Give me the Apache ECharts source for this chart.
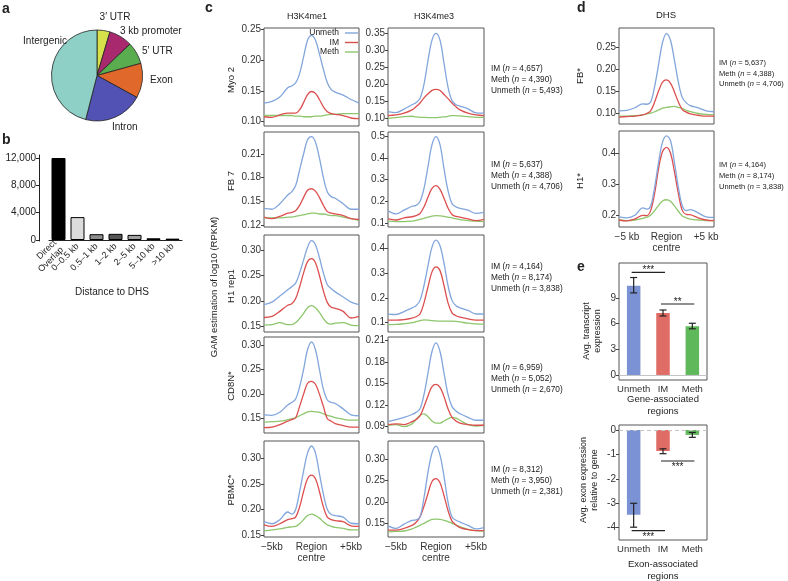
<!DOCTYPE html>
<html><head><meta charset="utf-8">
<script src="https://cdn.jsdelivr.net/npm/echarts@6/dist/echarts.min.js"></script>
<style>html,body{margin:0;padding:0;background:#fff}#c{width:788px;height:581px}</style>
</head><body><div id="c"></div>
<script>
const FONT = '"Liberation Sans", Arial, Helvetica, sans-serif';
const COL = {Unmeth:'#82a6dc', IM:'#dc4f4f', Meth:'#8dc66c'};

// ---- panel a
const pieCats = ['3′ UTR','3 kb promoter','5′ UTR','Exon','Intron','Intergenic'];
const pieVals = [4.6, 8.3, 7.8, 12.3, 21.0, 46.0];
const pieColors = ['#d6e04a','#a8296e','#5aad4e','#e0682a','#5252b4','#8ed0c6'];

// ---- panel b
const distCats = ['Direct\nOverlap','0–0.5 kb','0.5–1 kb','1–2 kb','2–5 kb','5–10 kb','>10 kb'];
const distVals = [12000, 3350, 850, 900, 750, 250, 200];
const distColors = ['#000000','#dcdcdc','#8c8c8c','#555555','#a0a0a0','#2e2e2e','#7a7a7a'];
const distTicks = [0, 4000, 8000, 12000];

// ---- panels c, d : profile x positions (kb from region centre)
const profX = [-6,-5,-4,-3,-2.5,-2,-1.5,-1,-0.5,0,0.5,1,1.5,2,2.5,3,4,5,6];

const myo2Me1Unmeth = [0.130,0.133,0.140,0.155,0.158,0.163,0.178,0.205,0.232,0.240,0.232,0.210,0.185,0.163,0.152,0.148,0.143,0.136,0.130];
const myo2Me1IM     = [0.108,0.107,0.111,0.114,0.114,0.114,0.119,0.131,0.144,0.149,0.146,0.136,0.124,0.116,0.113,0.112,0.110,0.106,0.105];
const myo2Me1Meth   = [0.110,0.110,0.110,0.110,0.110,0.109,0.109,0.108,0.108,0.108,0.109,0.109,0.110,0.111,0.112,0.112,0.113,0.113,0.113];
const myo2Me3Unmeth = [0.120,0.117,0.127,0.140,0.146,0.158,0.200,0.270,0.330,0.350,0.330,0.262,0.192,0.152,0.140,0.136,0.128,0.116,0.115];
const myo2Me3IM     = [0.108,0.110,0.115,0.125,0.134,0.145,0.160,0.172,0.182,0.185,0.182,0.170,0.158,0.145,0.134,0.125,0.115,0.110,0.108];
const myo2Me3Meth   = [0.100,0.102,0.105,0.106,0.104,0.103,0.103,0.102,0.102,0.102,0.103,0.104,0.106,0.108,0.108,0.107,0.105,0.103,0.103];

const fb7Me1Unmeth = [0.141,0.140,0.147,0.158,0.162,0.170,0.190,0.210,0.228,0.232,0.225,0.205,0.180,0.162,0.156,0.154,0.147,0.140,0.140];
const fb7Me1IM     = [0.130,0.128,0.131,0.135,0.136,0.138,0.145,0.155,0.164,0.166,0.163,0.155,0.145,0.137,0.135,0.134,0.132,0.128,0.127];
const fb7Me1Meth   = [0.129,0.129,0.129,0.130,0.130,0.131,0.132,0.133,0.134,0.135,0.135,0.134,0.134,0.133,0.132,0.132,0.130,0.128,0.126];
const fb7Me3Unmeth = [0.158,0.143,0.160,0.178,0.182,0.200,0.260,0.360,0.460,0.497,0.460,0.350,0.250,0.190,0.175,0.168,0.160,0.145,0.150];
const fb7Me3IM     = [0.120,0.115,0.125,0.130,0.135,0.145,0.175,0.220,0.260,0.272,0.255,0.215,0.170,0.140,0.132,0.128,0.120,0.112,0.118];
const fb7Me3Meth   = [0.110,0.108,0.108,0.110,0.113,0.118,0.123,0.128,0.133,0.135,0.134,0.132,0.128,0.125,0.120,0.117,0.112,0.110,0.108];

const h1Me1Unmeth = [0.193,0.198,0.210,0.222,0.228,0.235,0.255,0.280,0.305,0.318,0.310,0.285,0.255,0.232,0.224,0.218,0.208,0.198,0.193];
const h1Me1IM     = [0.168,0.170,0.180,0.192,0.195,0.205,0.228,0.255,0.277,0.283,0.275,0.250,0.220,0.197,0.188,0.186,0.180,0.167,0.170];
const h1Me1Meth   = [0.153,0.154,0.158,0.154,0.154,0.158,0.166,0.176,0.187,0.191,0.187,0.178,0.166,0.157,0.155,0.157,0.158,0.153,0.152];
const h1Me3Unmeth = [0.135,0.133,0.145,0.160,0.168,0.190,0.250,0.330,0.405,0.433,0.410,0.340,0.250,0.190,0.168,0.160,0.150,0.135,0.135];
const h1Me3IM     = [0.110,0.110,0.112,0.118,0.124,0.135,0.180,0.245,0.305,0.325,0.310,0.250,0.180,0.140,0.128,0.122,0.115,0.110,0.110];
const h1Me3Meth   = [0.092,0.093,0.096,0.100,0.104,0.108,0.111,0.110,0.108,0.107,0.106,0.106,0.106,0.106,0.105,0.103,0.098,0.095,0.094];

const cd8Me1Unmeth = [0.158,0.157,0.163,0.178,0.183,0.190,0.215,0.250,0.290,0.306,0.290,0.250,0.210,0.188,0.183,0.181,0.170,0.158,0.156];
const cd8Me1IM     = [0.132,0.133,0.138,0.145,0.148,0.152,0.175,0.200,0.222,0.226,0.220,0.200,0.175,0.150,0.145,0.140,0.136,0.133,0.133];
const cd8Me1Meth   = [0.143,0.144,0.145,0.148,0.150,0.152,0.156,0.160,0.164,0.165,0.164,0.163,0.160,0.157,0.155,0.152,0.149,0.147,0.147];
const cd8Me3Unmeth = [0.097,0.100,0.103,0.107,0.110,0.115,0.135,0.165,0.195,0.207,0.195,0.165,0.135,0.118,0.112,0.108,0.103,0.099,0.099];
const cd8Me3IM     = [0.093,0.094,0.093,0.097,0.100,0.105,0.118,0.133,0.146,0.149,0.145,0.132,0.115,0.103,0.098,0.095,0.093,0.092,0.092];
const cd8Me3Meth   = [0.092,0.093,0.090,0.094,0.100,0.106,0.108,0.104,0.098,0.095,0.095,0.098,0.101,0.103,0.102,0.099,0.093,0.091,0.092];

const pbmcMe1Unmeth = [0.176,0.172,0.180,0.195,0.191,0.200,0.235,0.275,0.310,0.324,0.310,0.270,0.230,0.200,0.190,0.188,0.185,0.173,0.172];
const pbmcMe1IM     = [0.170,0.167,0.172,0.180,0.182,0.185,0.205,0.235,0.260,0.267,0.260,0.235,0.205,0.185,0.180,0.178,0.176,0.168,0.167];
const pbmcMe1Meth   = [0.158,0.160,0.162,0.165,0.166,0.167,0.172,0.180,0.188,0.191,0.188,0.183,0.176,0.170,0.167,0.165,0.163,0.160,0.160];
const pbmcMe3Unmeth = [0.144,0.138,0.148,0.157,0.158,0.165,0.210,0.270,0.315,0.331,0.310,0.260,0.200,0.165,0.157,0.153,0.145,0.137,0.140];
const pbmcMe3IM     = [0.134,0.134,0.138,0.145,0.152,0.165,0.190,0.220,0.248,0.255,0.245,0.215,0.180,0.155,0.146,0.140,0.135,0.133,0.133];
const pbmcMe3Meth   = [0.130,0.131,0.132,0.137,0.141,0.145,0.150,0.155,0.159,0.160,0.159,0.157,0.154,0.150,0.146,0.142,0.136,0.133,0.132];

const dhsFbUnmeth = [0.105,0.106,0.112,0.121,0.120,0.125,0.160,0.210,0.260,0.280,0.265,0.220,0.170,0.135,0.123,0.117,0.112,0.105,0.103];
const dhsFbIM     = [0.091,0.092,0.093,0.096,0.099,0.105,0.125,0.150,0.170,0.175,0.168,0.148,0.125,0.108,0.102,0.098,0.095,0.093,0.093];
const dhsFbMeth   = [0.093,0.093,0.094,0.096,0.098,0.100,0.103,0.107,0.111,0.113,0.114,0.115,0.113,0.110,0.106,0.103,0.099,0.097,0.096];
const dhsH1Unmeth = [0.195,0.192,0.200,0.224,0.220,0.230,0.290,0.370,0.435,0.455,0.440,0.370,0.290,0.230,0.215,0.218,0.208,0.195,0.193];
const dhsH1IM     = [0.185,0.182,0.188,0.200,0.199,0.215,0.270,0.350,0.405,0.418,0.400,0.340,0.270,0.215,0.203,0.202,0.192,0.185,0.183];
const dhsH1Meth   = [0.185,0.183,0.185,0.190,0.194,0.200,0.215,0.232,0.246,0.250,0.245,0.230,0.213,0.198,0.192,0.188,0.185,0.183,0.183];

// tick labels
const ticksMyo2Me1 = [0.10,0.15,0.20,0.25];
const ticksMyo2Me3 = [0.10,0.15,0.20,0.25,0.30,0.35];
const ticksFb7Me1  = [0.12,0.15,0.18,0.21];
const ticksFb7Me3  = [0.1,0.2,0.3,0.4,0.5];
const ticksH1Me1   = [0.15,0.20,0.25,0.30];
const ticksH1Me3   = [0.1,0.2,0.3,0.4];
const ticksCd8Me1  = [0.15,0.20,0.25,0.30];
const ticksCd8Me3  = [0.09,0.12,0.15,0.18,0.21];
const ticksPbmcMe1 = [0.15,0.20,0.25,0.30];
const ticksPbmcMe3 = [0.15,0.20,0.25,0.30];
const ticksDhsFb   = [0.10,0.15,0.20,0.25];
const ticksDhsH1   = [0.2,0.3,0.4];
const profTicks = [-5, 0, 5];
const profTickLabelsC = ['−5kb','Region\ncentre','+5kb'];
const profTickLabelsD = ['−5 kb','Region\ncentre','+5 kb'];

const cColumns = ['H3K4me1','H3K4me3'];
const cRows = ['Myo 2','FB 7','H1 rep1','CD8N*','PBMC*'];
const dRows = ['FB*','H1*'];
// region counts: IM, Meth, Unmeth
const countsMyo2 = [4657, 4390, 5493];
const countsFb7  = [5637, 4388, 4706];
const countsH1   = [4164, 8174, 3838];
const countsCd8  = [6959, 5052, 2670];
const countsPbmc = [8312, 3950, 2381];
const countsDhsFb = [5637, 4388, 4706];
const countsDhsH1 = [4164, 8174, 3838];

// ---- panel e
const eCats = ['Unmeth','IM','Meth'];
const eColors = ['#7b93d4','#e06c66','#5fb85a'];
const geneMean = [10.45, 7.25, 5.70];
const geneLow  = [9.60, 6.90, 5.40];
const geneHigh = [11.40, 7.60, 6.05];
const exonMean = [-3.47, -0.86, -0.20];
const exonLow  = [-3.98, -0.97, -0.30];
const exonHigh = [-3.00, -0.77, -0.10];
const geneTicks = [0, 3, 6, 9];
const exonTicks = [-4, -3, -2, -1, 0];
const geneSig = [[0, 1, 12.0], [1, 2, 8.3]];
const geneSigLabels = ['***', '**'];
const exonSig = [[1, 2, -1.27], [0, 1, -4.12]];
const exonSigLabels = ['***', '***'];

// ---------------- build
const grids = [], xAxes = [], yAxes = [], series = [];
const frame = {show:true, borderColor:'#555', borderWidth:1, backgroundColor:'transparent'};
const fmtK = v => String(v).replace(/\B(?=(\d{3})+(?!\d))/g, ',');

function addProfile(left, top, width, height, U, I, M, range, ticks, dec, showX, xLabels) {
  const g = grids.length;
  grids.push(Object.assign({left, top, width, height}, frame));
  xAxes.push({gridIndex:g, type:'value', min:-6, max:6,
    axisLine:{show:false, onZero:false}, axisTick:{show:false}, splitLine:{show:false},
    axisLabel:{show:showX, customValues:profTicks, margin:4, fontSize:10, lineHeight:11.5, color:'#333', fontFamily:FONT,
      formatter: v => xLabels[profTicks.indexOf(v)]}});
  yAxes.push({gridIndex:g, type:'value', min:range[0], max:range[1],
    axisLine:{show:false, onZero:false}, splitLine:{show:false},
    axisTick:{show:true, customValues:ticks, length:3, lineStyle:{color:'#444'}},
    axisLabel:{customValues:ticks, margin:3, fontSize:10, color:'#333', fontFamily:FONT, formatter: v => v.toFixed(dec)}});
  [['Meth', M], ['IM', I], ['Unmeth', U]].forEach(([name, arr]) => {
    series.push({type:'line', name, xAxisIndex:g, yAxisIndex:g, smooth:0.35, symbol:'none',
      lineStyle:{width:1.3, color:COL[name]}, itemStyle:{color:COL[name]},
      data: profX.map((x, i) => [x, arr[i]])});
  });
}

// b
grids.push({left:49, top:155, width:133, height:86});
xAxes.push({gridIndex:0, type:'category', data:distCats,
  axisLine:{show:true, onZero:true, lineStyle:{color:'#222'}}, axisTick:{show:false},
  axisLabel:{rotate:45, interval:0, margin:4, fontSize:9, lineHeight:10, color:'#222', fontFamily:FONT}});
yAxes.push({gridIndex:0, type:'value', min:-146, max:12440, offset:10, splitLine:{show:false},
  axisLine:{show:true, onZero:false, lineStyle:{color:'#222'}},
  axisTick:{show:true, customValues:distTicks, length:3, lineStyle:{color:'#222'}},
  axisLabel:{customValues:distTicks, margin:3, fontSize:10, color:'#222', fontFamily:FONT, formatter:fmtK}});
series.push({type:'bar', name:'distance', xAxisIndex:0, yAxisIndex:0, barWidth:14,
  data: distVals.map((v, i) => ({value:v, itemStyle:{color:distColors[i], borderColor:'#000', borderWidth:1}}))});

// c
const cLeft = [264, 388], cWidth = [95, 96];
const rowTop = [28, 132, 235, 337, 441], rowH = [98, 95, 97, 96, 96];
const cData = [
  [[myo2Me1Unmeth, myo2Me1IM, myo2Me1Meth, [0.093,0.252], ticksMyo2Me1, 2], [myo2Me3Unmeth, myo2Me3IM, myo2Me3Meth, [0.0774,0.3656], ticksMyo2Me3, 2]],
  [[fb7Me1Unmeth, fb7Me1IM, fb7Me1Meth, [0.1175,0.2379], ticksFb7Me1, 2], [fb7Me3Unmeth, fb7Me3IM, fb7Me3Meth, [0.083,0.518], ticksFb7Me3, 1]],
  [[h1Me1Unmeth, h1Me1IM, h1Me1Meth, [0.1397,0.329], ticksH1Me1, 2], [h1Me3Unmeth, h1Me3IM, h1Me3Meth, [0.0625,0.4537], ticksH1Me3, 1]],
  [[cd8Me1Unmeth, cd8Me1IM, cd8Me1Meth, [0.121,0.316], ticksCd8Me1, 2], [cd8Me3Unmeth, cd8Me3IM, cd8Me3Meth, [0.0812,0.2152], ticksCd8Me3, 2]],
  [[pbmcMe1Unmeth, pbmcMe1IM, pbmcMe1Meth, [0.1461,0.3338], ticksPbmcMe1, 2], [pbmcMe3Unmeth, pbmcMe3IM, pbmcMe3Meth, [0.1179,0.343], ticksPbmcMe3, 2]]
];
cData.forEach((row, r) => row.forEach((p, k) =>
  addProfile(cLeft[k], rowTop[r], cWidth[k], rowH[r], p[0], p[1], p[2], p[3], p[4], p[5], r === 4, profTickLabelsC)));

// d
addProfile(619, 28, 95, 96, dhsFbUnmeth, dhsFbIM, dhsFbMeth, [0.0752,0.2928], ticksDhsFb, 2, false, profTickLabelsD);
addProfile(619, 131, 95, 96, dhsH1Unmeth, dhsH1IM, dhsH1Meth, [0.1625,0.4705], ticksDhsH1, 1, true, profTickLabelsD);

// e
function errRender(params, api) {
  const lo = api.coord([api.value(0), api.value(1)]);
  const hi = api.coord([api.value(0), api.value(2)]);
  const w = 3.5, st = {stroke:'#222', lineWidth:1.2};
  return {type:'group', children:[
    {type:'line', shape:{x1:lo[0], y1:lo[1], x2:hi[0], y2:hi[1]}, style:st},
    {type:'line', shape:{x1:lo[0]-w, y1:lo[1], x2:lo[0]+w, y2:lo[1]}, style:st},
    {type:'line', shape:{x1:hi[0]-w, y1:hi[1], x2:hi[0]+w, y2:hi[1]}, style:st}]};
}
function sigRender(labels, above) {
  return function(params, api) {
    const a = api.coord([api.value(0), api.value(2)]);
    const b = api.coord([api.value(1), api.value(2)]);
    const mid = (a[0] + b[0]) / 2;
    return {type:'group', children:[
      {type:'line', shape:{x1:a[0]-2, y1:a[1], x2:b[0]+2, y2:b[1]}, style:{stroke:'#222', lineWidth:1.1}},
      {type:'text', style:{text:labels[params.dataIndex], x:mid, y: above ? a[1]+3 : a[1]+1.5,
        textAlign:'center', textVerticalAlign: above ? 'bottom' : 'top', font:'10px ' + FONT, fill:'#222'}}]};
  };
}
function addBars(top, height, mean, low, high, range, ticks, sig, sigLabels, above, dashed) {
  const g = grids.length;
  grids.push(Object.assign({left:619, top, width:88, height}, frame));
  xAxes.push({gridIndex:g, type:'category', data:eCats, axisLine:{show:false, onZero:false}, axisTick:{show:false},
    axisLabel:{interval:0, margin:4, fontSize:9.5, color:'#333', fontFamily:FONT}});
  yAxes.push({gridIndex:g, type:'value', min:range[0], max:range[1], axisLine:{show:false, onZero:false}, splitLine:{show:false},
    axisTick:{show:true, customValues:ticks, length:3, lineStyle:{color:'#444'}},
    axisLabel:{customValues:ticks, margin:3, fontSize:10, color:'#333', fontFamily:FONT}});
  series.push({type:'bar', name:'bars' + g, xAxisIndex:g, yAxisIndex:g, barWidth:13.5,
    data: mean.map((v, i) => ({value:v, itemStyle:{color:eColors[i]}})),
    markLine:{silent:true, symbol:'none', label:{show:false},
      lineStyle:{color:'#c4c4c4', width:1, type: dashed ? [4, 3] : 'solid'}, data:[{yAxis:0}]}});
  series.push({type:'custom', name:'err' + g, xAxisIndex:g, yAxisIndex:g, renderItem:errRender,
    encode:{x:0, y:[1, 2]}, data: mean.map((v, i) => [i, low[i], high[i]]), z:5});
  series.push({type:'custom', name:'sig' + g, xAxisIndex:g, yAxisIndex:g, renderItem:sigRender(sigLabels, above),
    encode:{x:[0, 1], y:2}, data:sig, z:5});
}
addBars(263, 117, geneMean, geneLow, geneHigh, [-0.59, 13.1], geneTicks, geneSig, geneSigLabels, true, false);
addBars(425, 115, exonMean, exonLow, exonHigh, [-4.504, 0.205], exonTicks, exonSig, exonSigLabels, false, true);

// a: pie
series.push({type:'pie', name:'regions', center:[97, 75.5], radius:45.5, startAngle:90, silent:true, z:1,
  label:{show:false}, labelLine:{show:false},
  itemStyle:{borderColor:'#222', borderWidth:0.8},
  data: pieCats.map((c, i) => ({name:c, value:pieVals[i], itemStyle:{color:pieColors[i]}}))});

// ---- texts
const texts = [];
function T(text, x, y, o = {}) {
  const el = {type:'text', x, y, z:100, rotation: o.rot ? Math.PI / 2 : 0, silent:true,
    style:{text, font:(o.bold ? 'bold ' : '') + (o.size || 10) + 'px ' + FONT, fill:o.color || '#222',
      textAlign:o.align || 'left', textVerticalAlign:o.va || 'middle'}};
  if (o.lh) el.style.lineHeight = o.lh;
  if (o.rich) el.style.rich = o.rich;
  texts.push(el);
}
['a','b','c','d','e'].forEach((l, i) => T(l, [2, 2, 205, 577, 577][i], [9, 140, 8, 8, 267][i], {bold:true, size:14}));
const pieLabelPos = [[115,17.5,'center'],[120,31,'left'],[142,51,'left'],[150,80,'left'],[112,127,'left'],[67,41,'right']];
pieCats.forEach((c, i) => T(c, pieLabelPos[i][0], pieLabelPos[i][1], {align:pieLabelPos[i][2], size:10}));
T('Distance to DHS', 112, 292, {align:'center', size:10});
cColumns.forEach((c, i) => T(c, [307, 434][i], 17, {align:'center', size:9}));
T('GAM estimation of log10 (RPKM)', 214, 287, {align:'center', size:9.5, rot:true});
const cRowY = [80, 181, 286, 386, 490];
cRows.forEach((r, i) => T(r, 231, cRowY[i], {align:'center', size:9.5, rot:true}));
function counts(arr, x, y, size, lh) {
  const names = ['IM', 'Meth', 'Unmeth'];
  T(names.map((n, i) => n + ' ({i|n} = ' + fmtK(arr[i]) + ')').join('\n'), x, y, {size, lh, va:'top', rich:{i:{fontStyle:'italic', fontSize:size, fontFamily:FONT, lineHeight:lh}}});
}
const cCounts = [countsMyo2, countsFb7, countsH1, countsCd8, countsPbmc];
const cCountY = [63, 159.5, 261.5, 362, 464];
cCounts.forEach((c, i) => counts(c, 491, cCountY[i], 8.3, 11));
T('DHS', 666, 15, {align:'center', size:9.5});
dRows.forEach((r, i) => T(r, 580, [76, 181][i], {align:'center', size:9.5, rot:true}));
counts(countsDhsFb, 719, 57.5, 7.5, 10.7);
counts(countsDhsH1, 719, 160, 7.5, 10.7);
T('Avg. transcript\nexpression', 592, 331, {align:'center', size:9, lh:10.5, rot:true});
T('Avg. exon expression\nrelative to gene', 589.5, 480, {align:'center', size:9, lh:11, rot:true});
T('Gene-associated\nregions', 663, 405.5, {align:'center', size:9.5, lh:12.4});
T('Exon-associated\nregions', 663, 570, {align:'center', size:9.5, lh:12});

const chart = echarts.init(document.getElementById('c'), null, {renderer:'canvas'});
chart.setOption({
  animation:false,
  backgroundColor:'#fff',
  textStyle:{fontFamily:FONT},
  legend:{data:['Unmeth','IM','Meth'], orient:'vertical', align:'right', right:430, top:28.5,
    icon:'rect', itemWidth:13, itemHeight:1.4, itemGap:0.5, padding:0, selectedMode:false,
    textStyle:{fontSize:8.5, color:'#222', fontFamily:FONT, padding:[0, 1, 0, 0]}},
  grid:grids, xAxis:xAxes, yAxis:yAxes, series, graphic:texts
});
</script></body></html>
